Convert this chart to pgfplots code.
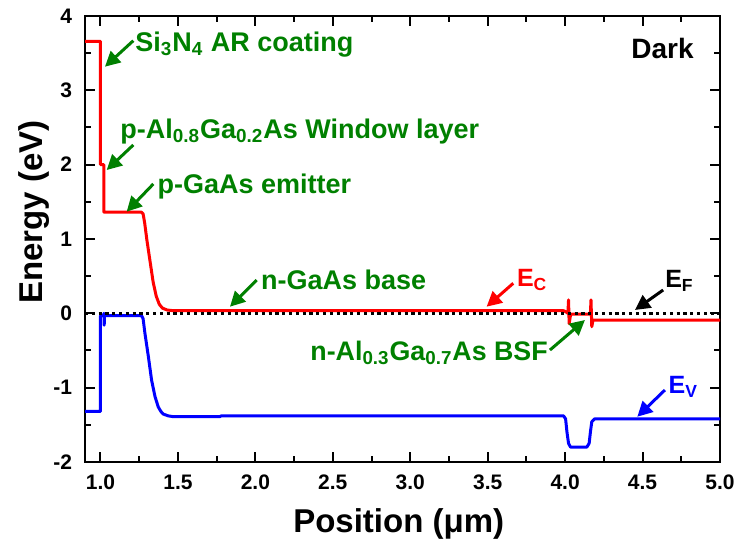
\documentclass[border=0pt]{standalone}
\usepackage{pgfplots}
\pgfplotsset{compat=1.18}
\usepackage{fontspec}
\setmainfont{Liberation Sans}
\usetikzlibrary{arrows.meta}
\definecolor{dkgreen}{RGB}{0,128,0}
\newcommand{\anno}{\fontsize{13.5}{15}\selectfont\bfseries}
\newcommand{\annos}{\fontsize{13.4}{15}\selectfont\bfseries}
\newcommand{\elab}{\fontsize{12.5}{14}\selectfont\bfseries}
\begin{document}
\begin{tikzpicture}
\begin{axis}[
  scale only axis, width=317.5pt, height=223pt,
  xmin=0.9, xmax=5.0, ymin=-2, ymax=4,
  xtick={1,1.5,2,2.5,3,3.5,4,4.5,5}, ytick={-2,-1,0,1,2,3,4},
  minor x tick num=1, minor y tick num=1,
  tick align=inside, major tick length=5pt, minor tick length=3pt,
  every tick/.style={line width=1pt, black},
  axis line style={line width=1pt},
  /pgf/number format/assume math mode=true,
  xticklabel style={/pgf/number format/fixed, /pgf/number format/fixed zerofill, /pgf/number format/precision=1, yshift=-3pt},
  yticklabel style={xshift=-3pt},
  ticklabel style={font=\fontsize{10.5}{12}\selectfont\bfseries},
  xlabel={Position (μm)}, ylabel={Energy (eV)},
  label style={font=\fontsize{16.5}{19}\selectfont\bfseries},
  xlabel style={at={(axis description cs:0.494,-0.0897)}, anchor=north},
  ylabel style={at={(axis description cs:-0.0441,0.56)}, anchor=south},
  clip=true,
]
% Conduction band E_C
\addplot[red, line width=1.5pt, line join=round] coordinates {
(0.9,3.66) (1.0,3.66) (1.0,2.0) (1.022,2.0) (1.022,1.36) (1.265,1.36)
(1.275,1.34) (1.285,1.22) (1.30,0.98) (1.32,0.70) (1.34,0.42) (1.36,0.23)
(1.38,0.12) (1.40,0.07) (1.43,0.045) (1.47,0.035) (3.99,0.035) (4.005,0.02)
(4.018,0.0) (4.022,0.18) (4.026,-0.14) (4.035,-0.02) (4.045,-0.01)
(4.163,-0.01) (4.167,0.18) (4.172,-0.18) (4.18,-0.09) (5.0,-0.09)
};
% Valence band E_V
\addplot[blue, line width=1.5pt, line join=round] coordinates {
(0.9,-1.32) (1.0,-1.32) (1.0,-0.03) (1.02,-0.03) (1.022,0.0) (1.024,-0.16)
(1.026,-0.04) (1.03,-0.03) (1.265,-0.03) (1.275,-0.07) (1.287,-0.27)
(1.309,-0.58) (1.33,-0.90) (1.352,-1.12) (1.373,-1.26) (1.39,-1.32)
(1.405,-1.355) (1.438,-1.38) (1.47,-1.39) (1.77,-1.39) (1.78,-1.38)
(3.99,-1.38) (4.003,-1.42) (4.012,-1.6) (4.022,-1.75) (4.035,-1.80)
(4.14,-1.80) (4.155,-1.75) (4.163,-1.6) (4.172,-1.46) (4.19,-1.42) (5.0,-1.42)
};
% Fermi level
\addplot[black, line width=1.2pt, dash pattern=on 1.6pt off 1.8pt] coordinates {(0.9,0) (5.0,0)};

% annotations
\tikzset{garrow/.style={dkgreen, line width=1.5pt, -{Triangle[length=7.5pt,width=7.5pt]}}}
\node[anchor=base west, inner sep=0pt, text=dkgreen, font=\anno] at (axis cs:1.223,3.520) {Si\textsubscript{3}N\textsubscript{4} AR coating};
\draw[garrow] (axis cs:1.212,3.668) -- (axis cs:1.029,3.318);
\node[anchor=base west, inner sep=0pt, text=dkgreen, font=\anno] at (axis cs:1.126,2.355) {p-Al\textsubscript{0.8}Ga\textsubscript{0.2}As Window layer};
\draw[garrow] (axis cs:1.212,2.265) -- (axis cs:1.040,1.928);
\node[anchor=base west, inner sep=0pt, text=dkgreen, font=\anno] at (axis cs:1.367,1.615) {p-GaAs emitter};
\draw[garrow] (axis cs:1.341,1.740) -- (axis cs:1.169,1.367);
\node[anchor=base west, inner sep=0pt, text=dkgreen, font=\anno] at (axis cs:2.034,0.314) {n-GaAs base};
\draw[garrow] (axis cs:2.008,0.448) -- (axis cs:1.836,0.089);
\node[anchor=base west, inner sep=0pt, text=dkgreen, font=\annos] at (axis cs:2.353,-0.628) {n-Al\textsubscript{0.3}Ga\textsubscript{0.7}As BSF};
\draw[garrow] (axis cs:3.902,-0.494) -- (axis cs:4.128,-0.090);

\node[anchor=base west, inner sep=0pt, text=red, font=\elab] at (axis cs:3.687,0.358) {E\textsubscript{C}};
\draw[red, line width=1.5pt, -{Triangle[length=7.5pt,width=7.5pt]}] (axis cs:3.665,0.404) -- (axis cs:3.493,0.089);
\node[anchor=base west, inner sep=0pt, text=black, font=\elab] at (axis cs:4.644,0.345) {E\textsubscript{F}};
\draw[black, line width=1.5pt, -{Triangle[length=7.5pt,width=7.5pt]}] (axis cs:4.633,0.314) -- (axis cs:4.451,0.045);
\node[anchor=base west, inner sep=0pt, text=blue, font=\elab] at (axis cs:4.666,-1.085) {E\textsubscript{V}};
\draw[blue, line width=1.5pt, -{Triangle[length=7.5pt,width=7.5pt]}] (axis cs:4.644,-1.032) -- (axis cs:4.466,-1.391);

\node[anchor=base west, inner sep=0pt, text=black, font=\fontsize{14}{16}\selectfont\bfseries] at (axis cs:4.425,3.431) {Dark};
\end{axis}
\pgfresetboundingbox
\path[use as bounding box] ([shift={(-42.5pt,-39.5pt)}]current axis.south west) rectangle ([shift={(7.5pt,8pt)}]current axis.north east);
\end{tikzpicture}
\end{document}
